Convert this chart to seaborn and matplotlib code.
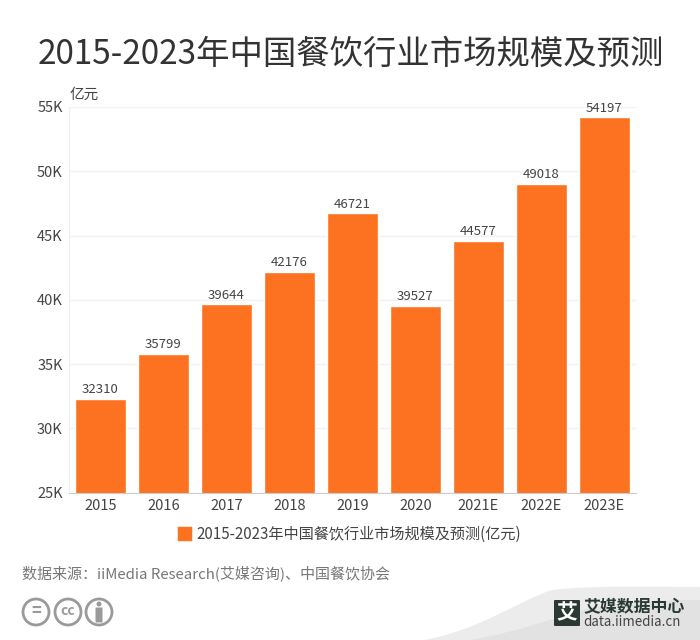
import matplotlib
matplotlib.use('Agg')
import matplotlib.pyplot as plt
import seaborn as sns
import pandas as pd
from matplotlib.patches import Patch, Circle, FancyBboxPatch, PathPatch
from matplotlib.path import Path

years = ['2015', '2016', '2017', '2018', '2019', '2020', '2021E', '2022E', '2023E']
market_size = [32310, 35799, 39644, 42176, 46721, 39527, 44577, 49018, 54197]
y_ticks = [25000, 30000, 35000, 40000, 45000, 50000, 55000]
y_labels = ['25K', '30K', '35K', '40K', '45K', '50K', '55K']

title = '2015-2023年中国餐饮行业市场规模及预测'
series_name = '2015-2023年中国餐饮行业市场规模及预测(亿元)'
source = '数据来源\uff1aiiMedia Research(艾媒咨询)、中国餐饮协会'

sns.set_style('white')
plt.rcParams['font.family'] = ['Noto Sans CJK SC', 'DejaVu Sans']

W, H = 700, 640
ORANGE = '#fd7220'
df = pd.DataFrame({'year': years, 'size': market_size})

fig = plt.figure(figsize=(7, 6.4), dpi=100)
ax = fig.add_axes([69 / W, 1 - 492.5 / H, 567 / W, 385.5 / H])
sns.barplot(data=df, x='year', y='size', color=ORANGE, saturation=1, width=0.8, ax=ax)

ax.set_ylim(25000, 55000)
ax.set_xlim(-0.5, 8.5)
ax.set_yticks(y_ticks)
ax.set_yticklabels(y_labels)
ax.set_xlabel('')
ax.set_ylabel('')
ax.tick_params(axis='both', length=0, labelsize=10.5, labelcolor='#444444')
ax.tick_params(axis='x', pad=4.5)
ax.tick_params(axis='y', pad=4.5)
ax.grid(axis='y', color='#f2f2f2', lw=1)
ax.set_axisbelow(True)
sns.despine(ax=ax, top=True, right=True)
ax.spines['left'].set_color('#f0f0f0')
ax.spines['bottom'].set_color('#cccccc')

# value labels above the bars
ax.bar_label(ax.containers[0], labels=[str(v) for v in market_size], padding=2,
             fontsize=9.5, color='#444444')

fig.text(38 / W, 1 - 54 / H, title, fontsize=24, color='#333333', va='center', ha='left')
fig.text(70 / W, 1 - 95 / H, '亿元', fontsize=10.5, color='#444444', va='center', ha='left')
fig.text(22 / W, 1 - 573.5 / H, source, fontsize=10.8, color='#777777', va='center', ha='left')

# legend under the axis
handle = Patch(facecolor=ORANGE, edgecolor=ORANGE, lw=2.5, joinstyle='round')
fig.legend([handle], [series_name], loc='center', bbox_to_anchor=(350 / W, 1 - 534 / H),
           frameon=False, fontsize=10.9, labelcolor='#444444', handlelength=0.75, handleheight=0.75,
           handletextpad=0.45)

# full-figure overlay in pixel coordinates for the footer decoration
bg = fig.add_axes([0, 0, 1, 1], zorder=-1)
bg.set_xlim(0, W)
bg.set_ylim(H, 0)
bg.axis('off')

swoosh = Path([(424, 640), (480, 630), (520, 600), (552, 590), (590, 585), (660, 587), (700, 587),
               (700, 640), (424, 640)],
              [Path.MOVETO, Path.CURVE4, Path.CURVE4, Path.CURVE4, Path.CURVE4, Path.CURVE4, Path.CURVE4,
               Path.LINETO, Path.CLOSEPOLY])
bg.add_patch(PathPatch(swoosh, facecolor='#ececec', edgecolor='none'))
inner = Path([(470, 640), (520, 632), (560, 615), (600, 606), (640, 600), (680, 600), (700, 600),
              (700, 640), (470, 640)],
             [Path.MOVETO, Path.CURVE4, Path.CURVE4, Path.CURVE4, Path.CURVE4, Path.CURVE4, Path.CURVE4,
              Path.LINETO, Path.CLOSEPOLY])
bg.add_patch(PathPatch(inner, facecolor='#e2e2e2', edgecolor='none'))

# licence icons
for cx, txt in zip([36, 68, 99], ['=', 'cc', '']):
    bg.add_patch(Circle((cx, 612), 13, facecolor='white', edgecolor='#9a9a9a', lw=2))
    if txt:
        bg.text(cx, 611, txt, fontsize=12 if txt == '=' else 10, color='#9a9a9a', ha='center', va='center',
                fontweight='bold')
bg.add_patch(Circle((99, 604), 2.5, facecolor='#9a9a9a', edgecolor='none'))
bg.add_patch(FancyBboxPatch((96, 608), 6, 14, boxstyle='round,pad=0.5', facecolor='#9a9a9a', edgecolor='none'))

# logo
bg.add_patch(FancyBboxPatch((555, 601), 24, 24, boxstyle='round,pad=1', facecolor='#2a3a33', edgecolor='none'))
bg.text(567, 613, '艾', fontsize=15, color='white', ha='center', va='center', fontweight='bold')
bg.text(583, 607, '艾媒数据中心', fontsize=12.2, color='#2a3a33', ha='left', va='center', fontweight='bold')
bg.text(583, 622, 'data.iimedia.cn', fontsize=9.6, color='#444444', ha='left', va='center')

fig.savefig('out.png', dpi=100, facecolor='white')
